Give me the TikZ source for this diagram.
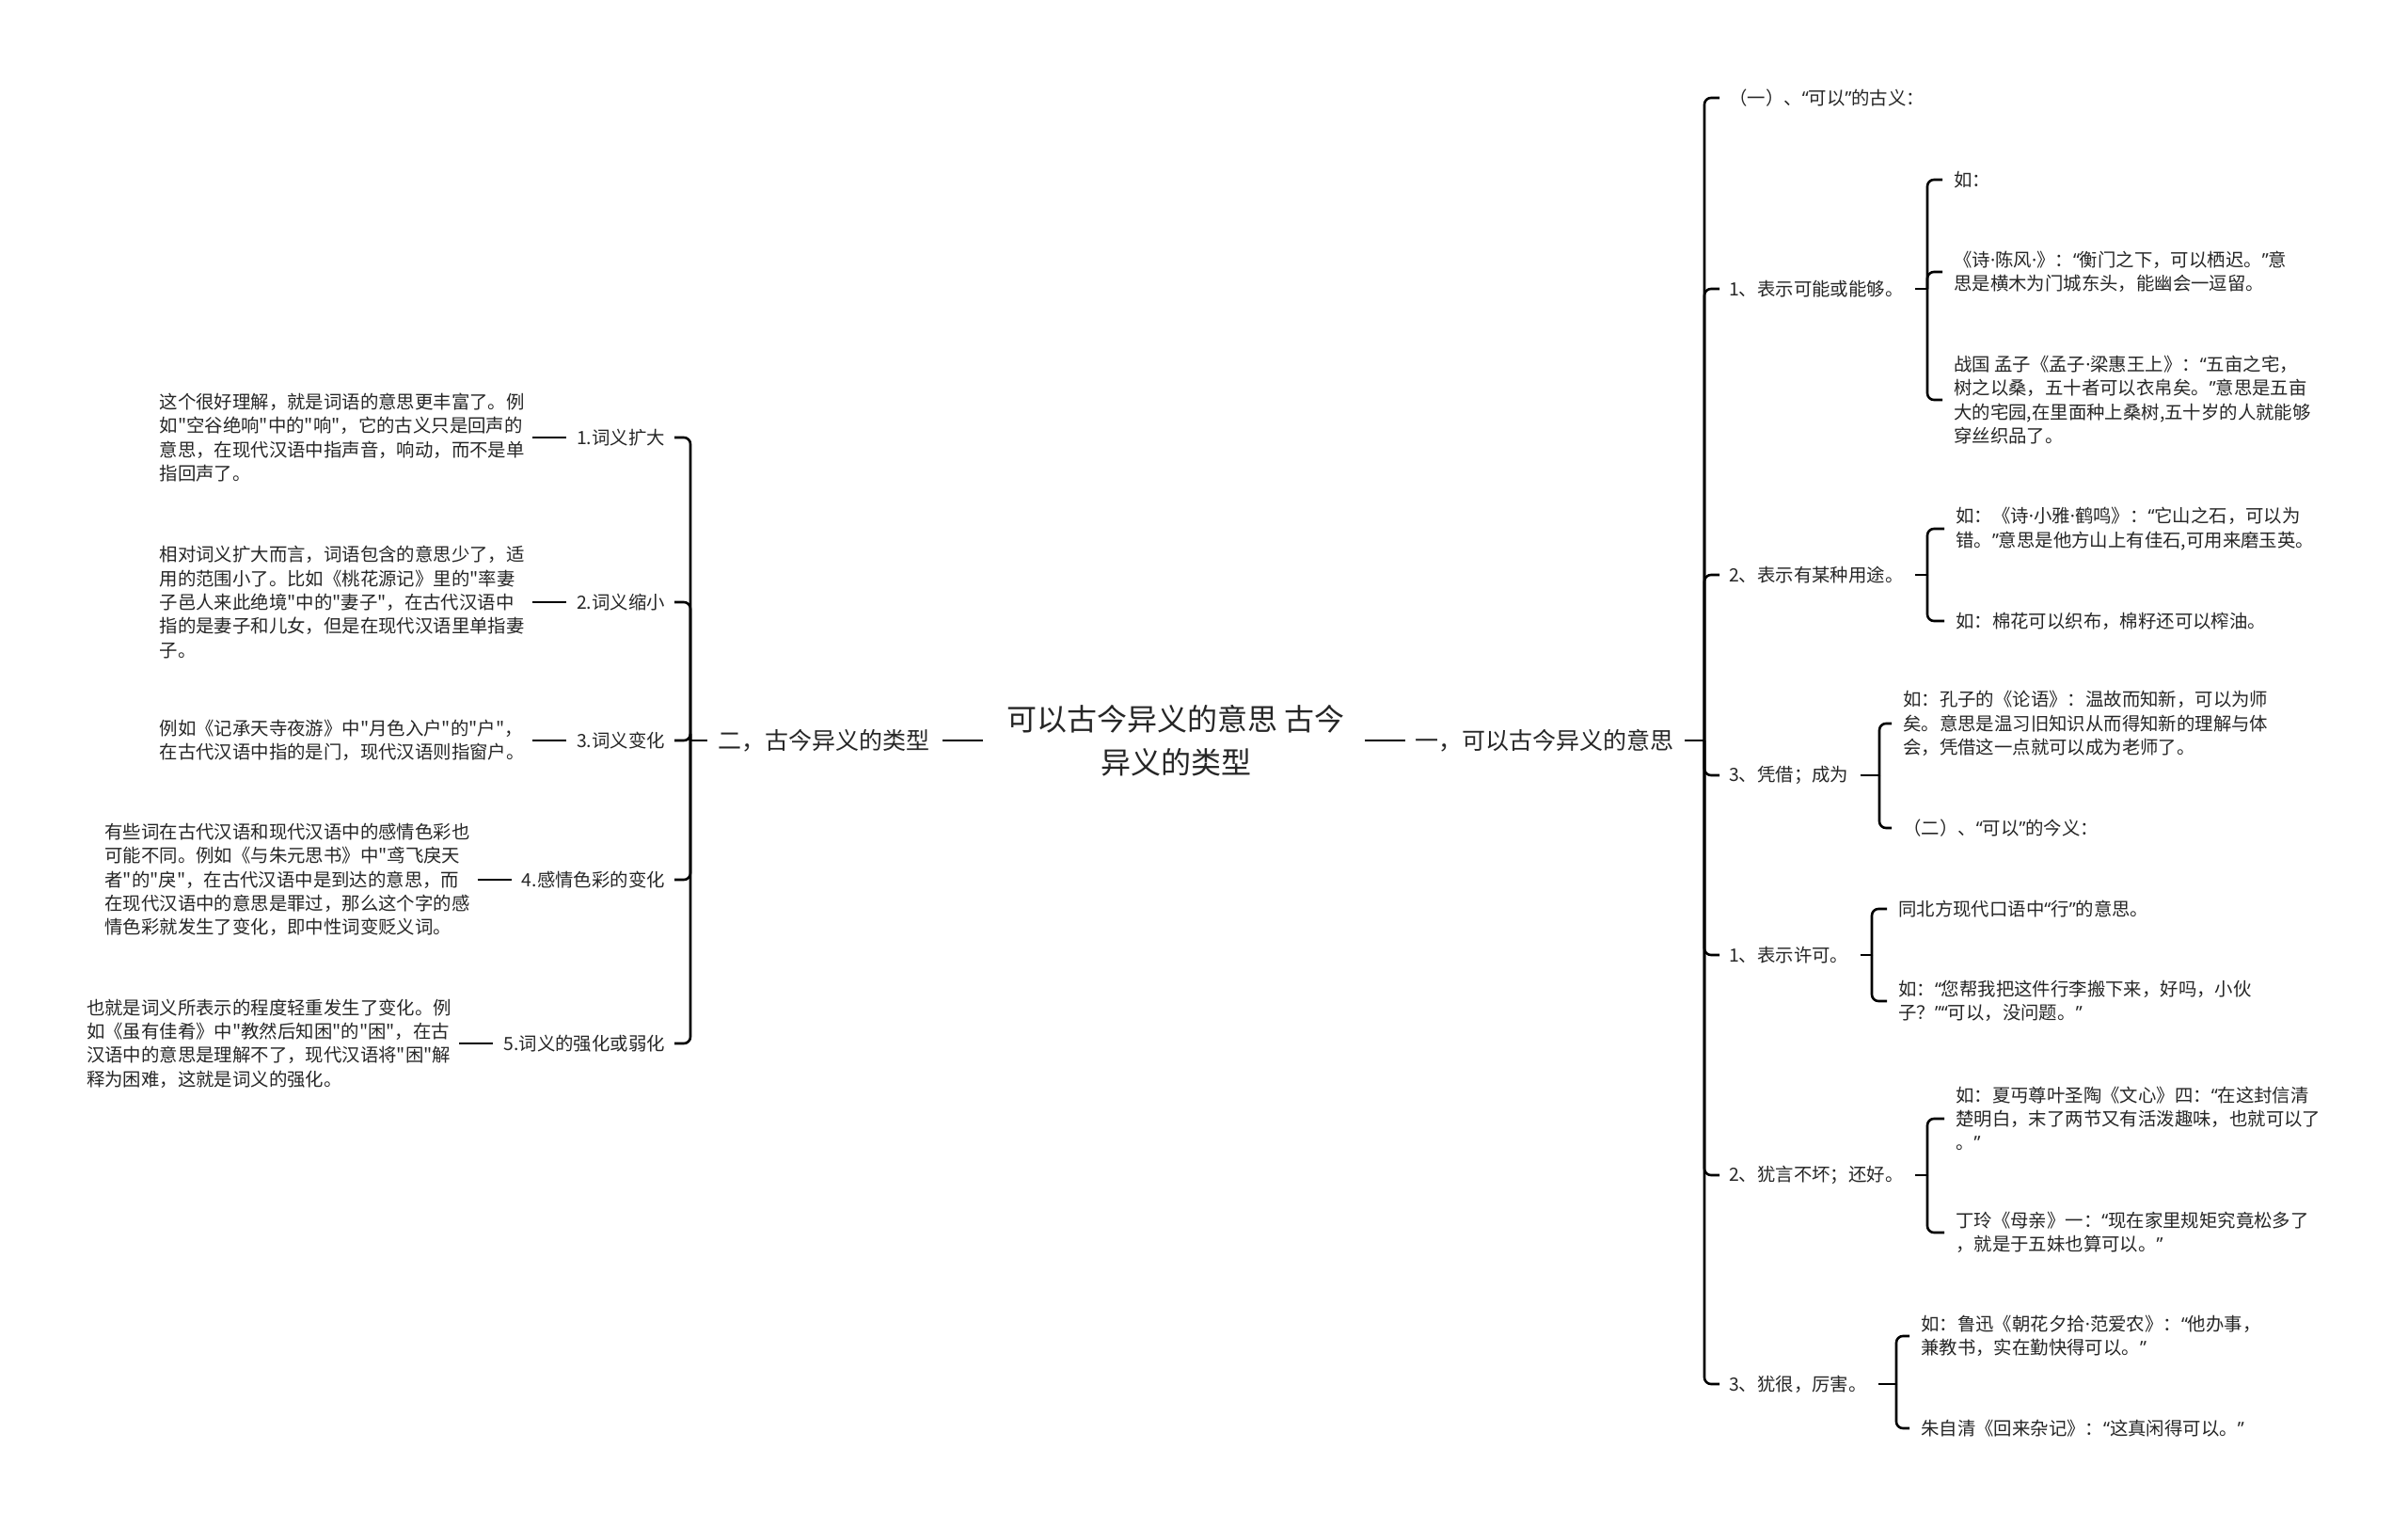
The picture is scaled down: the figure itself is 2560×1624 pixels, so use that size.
\documentclass[tikz,border=0pt]{standalone}
\usepackage{fontspec}
\newfontfamily\cjk{Noto Sans CJK SC}
\newfontfamily\latinf{Noto Sans}
\newcommand{\qo}{{\latinf “}}
\newcommand{\qc}{{\latinf ”}}
\newcommand{\mdt}{{\latinf ·}}
\usetikzlibrary{positioning}

\begin{document}
\begin{tikzpicture}[
        x=1pt, y=-1pt,
        every node/.style={inner sep=0pt, text=black!85,
                           font=\cjk\fontsize{19.4}{25.3}\selectfont},
        rootnode/.style={align=center, font=\cjk\fontsize{32}{46}\selectfont},
        topic/.style={font=\cjk\fontsize{25}{32}\selectfont},
        rleaf/.style={align=left, anchor=west},
        lleaf/.style={align=left, anchor=east},
        conn/.style={line width=2.6pt, rounded corners=7pt}
    ]
        \useasboundingbox[fill=white] (0,0) rectangle (2560,1624);

        % centre
        \node[rootnode] (root) at (1250,787) {可以古今异义的意思 古今\\异义的类型};
        \node[topic, anchor=west] (yi) at (1504,787) {一，可以古今异义的意思};
        \node[topic, anchor=east] (er) at (989,787) {二，古今异义的类型};
        \draw[conn] ([xshift=21]root.east) -- ([xshift=-10]yi.west);
        \draw[conn] ([xshift=-25]root.west) -- ([xshift=13]er.east);

        % right: meanings of kěyǐ
        \coordinate (jyi) at (1812,787);
        \node[rleaf] (gy)  at (1838,104)  {（一）、\qo{}可以\qc{}的古义：};
        \node[rleaf] (ky1) at (1838,307)  {1、表示可能或能够。};
        \node[rleaf] (ky2) at (1838,611)  {2、表示有某种用途。};
        \node[rleaf] (ky3) at (1838,824)  {3、凭借；成为};
        \node[rleaf] (jy1) at (1838,1015) {1、表示许可。};
        \node[rleaf] (jy2) at (1838,1249) {2、犹言不坏；还好。};
        \node[rleaf] (jy3) at (1838,1471) {3、犹很，厉害。};
        \draw[conn] ([xshift=12]yi.east) -- (jyi);
        \foreach \c in {gy,ky1,ky2,ky3,jy1,jy2,jy3}
            \draw[conn] (jyi) |- ([xshift=-10]\c.west);

        \coordinate (ja) at (2049,307);
        \node[rleaf] (ka1) at (2077,191) {如：};
        \node[rleaf] (ka2) at (2077,289) {《诗\mdt{}陈风\mdt{}》：\qo{}衡门之下，可以栖迟。\qc{}意\\思是横木为门城东头，能幽会一逗留。};
        \node[rleaf] (ka3) at (2077,425) {战国 孟子《孟子\mdt{}梁惠王上》：\qo{}五亩之宅，\\树之以桑，五十者可以衣帛矣。\qc{}意思是五亩\\大的宅园,在里面种上桑树,五十岁的人就能够\\穿丝织品了。};
        \draw[conn] ([xshift=12]ky1.east) -- (ja);
        \foreach \c in {ka1,ka2,ka3}
            \draw[conn] (ja) |- ([xshift=-12]\c.west);

        \coordinate (jb) at (2049,611);
        \node[rleaf] (kb1) at (2079,562) {如：《诗\mdt{}小雅\mdt{}鹤鸣》：\qo{}它山之石，可以为\\错。\qc{}意思是他方山上有佳石,可用来磨玉英。};
        \node[rleaf] (kb2) at (2079,660) {如：棉花可以织布，棉籽还可以榨油。};
        \draw[conn] ([xshift=12]ky2.east) -- (jb);
        \foreach \c in {kb1,kb2}
            \draw[conn] (jb) |- ([xshift=-12]\c.west);

        \coordinate (jc) at (1998,824);
        \node[rleaf] (kc1) at (2023,769) {如：孔子的《论语》：温故而知新，可以为师\\矣。意思是温习旧知识从而得知新的理解与体\\会，凭借这一点就可以成为老师了。};
        \node[rleaf] (kc2) at (2023,880) {（二）、\qo{}可以\qc{}的今义：};
        \draw[conn] ([xshift=12]ky3.east) -- (jc);
        \foreach \c in {kc1,kc2}
            \draw[conn] (jc) |- ([xshift=-12]\c.west);

        \coordinate (jd) at (1990,1015);
        \node[rleaf] (jd1) at (2018,966)  {同北方现代口语中\qo{}行\qc{}的意思。};
        \node[rleaf] (jd2) at (2018,1064) {如：\qo{}您帮我把这件行李搬下来，好吗，小伙\\子？\qc{}\qo{}可以，没问题。\qc{}};
        \draw[conn] ([xshift=12]jy1.east) -- (jd);
        \foreach \c in {jd1,jd2}
            \draw[conn] (jd) |- ([xshift=-12]\c.west);

        \coordinate (je) at (2049,1249);
        \node[rleaf] (je1) at (2079,1189) {如：夏丏尊叶圣陶《文心》四：\qo{}在这封信清\\楚明白，末了两节又有活泼趣味，也就可以了\\。\qc{}};
        \node[rleaf] (je2) at (2079,1310) {丁玲《母亲》一：\qo{}现在家里规矩究竟松多了\\，就是于五妹也算可以。\qc{}};
        \draw[conn] ([xshift=12]jy2.east) -- (je);
        \foreach \c in {je1,je2}
            \draw[conn] (je) |- ([xshift=-12]\c.west);

        \coordinate (jf) at (2016,1471);
        \node[rleaf] (jf1) at (2042,1420) {如：鲁迅《朝花夕拾\mdt{}范爱农》：\qo{}他办事，\\兼教书，实在勤快得可以。\qc{}};
        \node[rleaf] (jf2) at (2042,1518) {朱自清《回来杂记》：\qo{}这真闲得可以。\qc{}};
        \draw[conn] ([xshift=12]jy3.east) -- (jf);
        \foreach \c in {jf1,jf2}
            \draw[conn] (jf) |- ([xshift=-12]\c.west);

        % left: types
        \coordinate (jer) at (734,787);
        \node[lleaf] (lx1) at (707,465)  {1.词义扩大};
        \node[lleaf] (lx2) at (707,640)  {2.词义缩小};
        \node[lleaf] (lx3) at (707,787)  {3.词义变化};
        \node[lleaf] (lx4) at (707,935)  {4.感情色彩的变化};
        \node[lleaf] (lx5) at (707,1109) {5.词义的强化或弱化};
        \draw[conn] ([xshift=-12]er.west) -- (jer);
        \foreach \c in {lx1,lx2,lx3,lx4,lx5}
            \draw[conn] (jer) |- ([xshift=10]\c.east);

        \node[lleaf, left=55pt of lx1] (ll1) {这个很好理解，就是词语的意思更丰富了。例\\如"空谷绝响"中的"响"，它的古义只是回声的\\意思，在现代汉语中指声音，响动，而不是单\\指回声了。};
        \node[lleaf, left=55pt of lx2] (ll2) {相对词义扩大而言，词语包含的意思少了，适\\用的范围小了。比如《桃花源记》里的"率妻\\子邑人来此绝境"中的"妻子"，在古代汉语中\\指的是妻子和儿女，但是在现代汉语里单指妻\\子。};
        \node[lleaf, left=55pt of lx3] (ll3) {例如《记承天寺夜游》中"月色入户"的"户"，\\在古代汉语中指的是门，现代汉语则指窗户。};
        \node[lleaf, left=55pt of lx4] (ll4) {有些词在古代汉语和现代汉语中的感情色彩也\\可能不同。例如《与朱元思书》中"鸢飞戾天\\者"的"戾"，在古代汉语中是到达的意思，而\\在现代汉语中的意思是罪过，那么这个字的感\\情色彩就发生了变化，即中性词变贬义词。};
        \node[lleaf, left=55pt of lx5] (ll5) {也就是词义所表示的程度轻重发生了变化。例\\如《虽有佳肴》中"教然后知困"的"困"，在古\\汉语中的意思是理解不了，现代汉语将"困"解\\释为困难，这就是词义的强化。};
        \foreach \i in {1,...,5}
            \draw[conn] ([xshift=8]ll\i.east) -- ([xshift=-11]lx\i.west);
    \end{tikzpicture}
\end{document}
